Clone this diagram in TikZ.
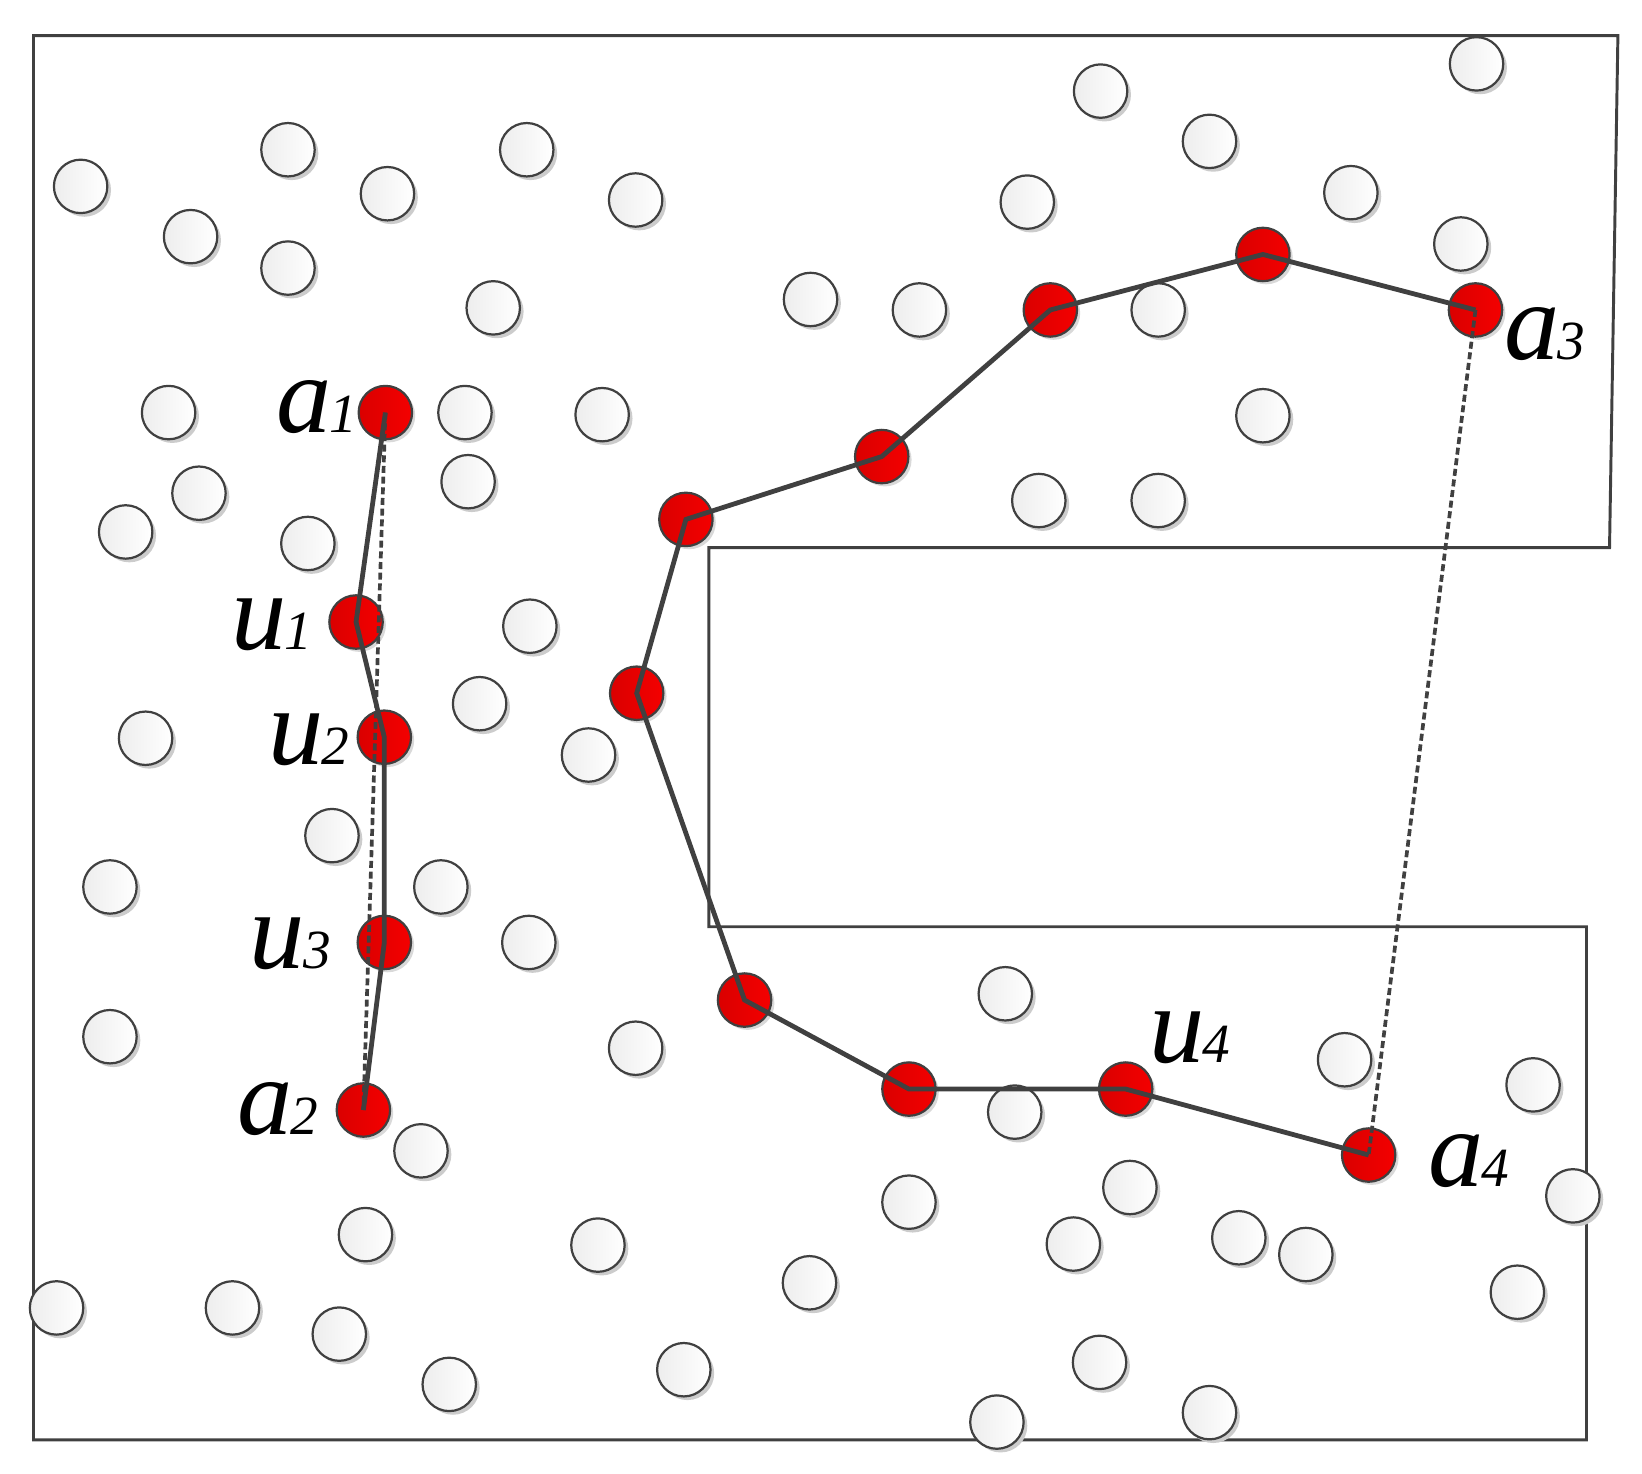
\documentclass[tikz,border=0pt]{standalone}
\usepackage{fontspec}
\setmainfont{Liberation Serif}
\usetikzlibrary{shadows}
\definecolor{ink}{HTML}{404040}
\definecolor{redA}{HTML}{DA0000}
\definecolor{redB}{HTML}{F40000}
\tikzset{
  wc/.style={circle, draw=ink, line width=0.6pt, minimum size=0.51cm, inner sep=0pt,
    left color=gray!14, right color=white,
    drop shadow={shadow xshift=0.035cm, shadow yshift=-0.035cm, fill=gray!40, opacity=1}},
  rc/.style={circle, draw=ink, line width=0.6pt, minimum size=0.51cm, inner sep=0pt,
    left color=redA, right color=redB,
    drop shadow={shadow xshift=0.03cm, shadow yshift=-0.03cm, fill=gray!30, opacity=1}},
  frame/.style={draw=ink, line width=0.8pt},
  route/.style={draw=ink, line width=1.3pt, line join=miter},
  direct/.style={draw=ink, line width=1pt, dash pattern=on 1.9pt off 1pt},
  lbl/.style={anchor=base west, inner sep=0pt, text=black}
}
\newcommand{\lab}[2]{{\fontsize{30}{32}\selectfont\itshape #1}\kern-0.02cm{\fontsize{15}{17}\selectfont\itshape #2}}
\begin{document}
\begin{tikzpicture}[x=0.01cm, y=-0.01cm]
\useasboundingbox (0,0) rectangle (1568,1407);
% frame
\draw[frame] (32,34) -- (1545,34) -- (1537,523) -- (677,523) -- (677,885) -- (1515,885) -- (1515,1375) -- (32,1375) -- cycle;
% white circles
\foreach \n/\x/\y in {1/77/178, 2/275/143, 3/370/185, 4/503/143, 5/182/226, 6/275/256, 7/607/191, 8/471/294,
  9/1051/87, 10/1410/61, 11/1155/135, 12/981/193, 13/1290/184, 14/1395/233, 15/774/286, 16/878/296,
  17/1106/296, 18/161/394, 19/444/394, 20/575/396, 21/1206/397, 22/190/471, 23/447/460, 24/120/508,
  25/294/519, 26/992/478, 27/1106/478, 28/506/598, 29/458/672, 30/139/705, 31/562/721, 32/317/798,
  33/105/847, 34/421/847, 35/505/900, 36/960/949, 37/105/990, 38/607/1001, 39/1284/1012, 40/1464/1036,
  41/969/1062, 42/402/1099, 43/868/1148, 44/1079/1134, 45/1502/1142, 46/349/1179, 47/571/1189,
  48/1025/1188, 49/1183/1182, 50/1247/1198, 51/773/1225, 52/1449/1234, 53/54/1249, 54/222/1249,
  55/324/1274, 56/1050/1301, 57/429/1322, 58/653/1308, 59/952/1358, 60/1155/1349}
  \node[wc] (w\n) at (\x,\y) {};
% red circles
\node[rc] (a1) at (368,394) {};
\node[rc] (u1) at (340,594) {};
\node[rc] (u2) at (367,704) {};
\node[rc] (u3) at (367,900) {};
\node[rc] (a2) at (347,1060) {};
\node[rc] (a3) at (1409,296) {};
\node[rc] (r1) at (1206,243) {};
\node[rc] (r2) at (1003,296) {};
\node[rc] (r3) at (842,436) {};
\node[rc] (r4) at (655,496) {};
\node[rc] (r5) at (608,662) {};
\node[rc] (r6) at (711,955) {};
\node[rc] (r7) at (868,1040) {};
\node[rc] (u4) at (1075,1040) {};
\node[rc] (a4) at (1307,1103) {};
% routes
\draw[direct] (a1.center) -- (a2.center);
\draw[direct] (a3.center) -- (a4.center);
\draw[route] (a1.center) -- (u1.center) -- (u2.center) -- (u3.center) -- (a2.center);
\draw[route] (a3.center) -- (r1.center) -- (r2.center) -- (r3.center) -- (r4.center) -- (r5.center)
  -- (r6.center) -- (r7.center) -- (u4.center) -- (a4.center);
% labels
\node[lbl] (la1) at (263,413) {\lab{a}{1}};
\node[lbl] (lu1) at (220,620) {\lab{u}{1}};
\node[lbl] (lu2) at (256,730) {\lab{u}{2}};
\node[lbl] (lu3) at (238,925) {\lab{u}{3}};
\node[lbl] (la2) at (226,1083) {\lab{a}{2}};
\node[lbl] (la3) at (1436,343) {\lab{a}{3}};
\node[lbl] (lu4) at (1097,1015) {\lab{u}{4}};
\node[lbl] (la4) at (1363,1133) {\lab{a}{4}};
\end{tikzpicture}
\end{document}
